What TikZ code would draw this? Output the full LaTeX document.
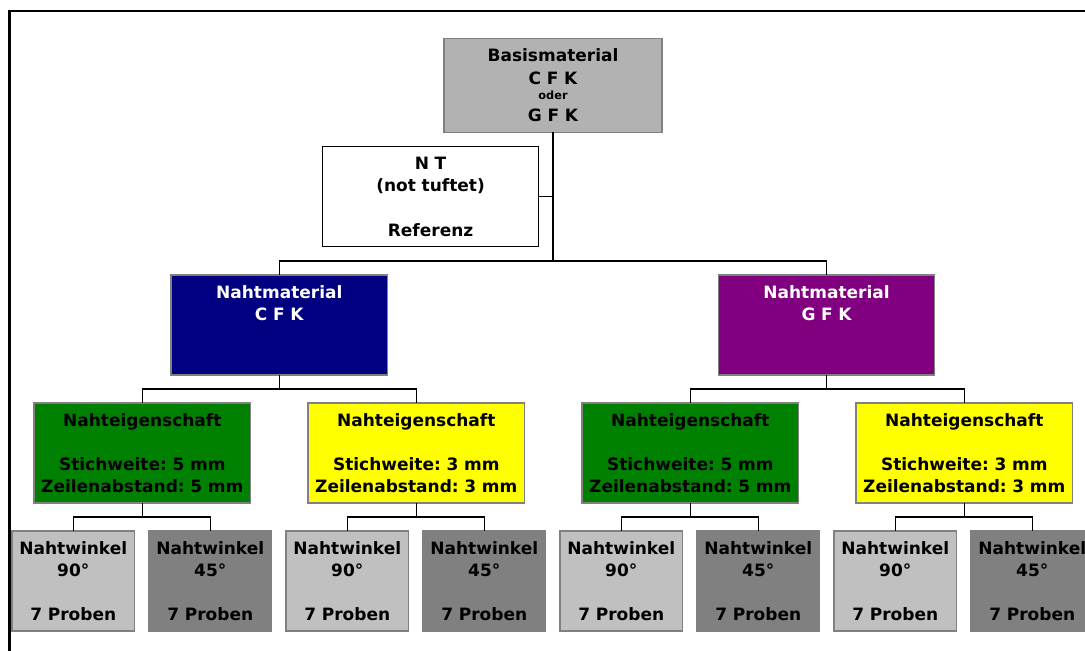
\documentclass[tikz,border=0pt]{standalone}
\usepackage{fontspec}
\setmainfont{DejaVu Sans}
\usepackage{tikz}
\frenchspacing

\definecolor{basisgray}{RGB}{178,178,178}
\definecolor{cfknavy}{RGB}{0,0,128}
\definecolor{gfkpurple}{RGB}{128,0,128}
\definecolor{stichgreen}{RGB}{0,128,0}
\definecolor{stichyellow}{RGB}{255,255,0}
\definecolor{winkellight}{RGB}{192,192,192}
\definecolor{winkeldark}{RGB}{128,128,128}
\definecolor{boxline}{RGB}{128,128,128}

\begin{document}
\begin{tikzpicture}[x=0.75pt, y=-0.75pt,
    font=\bfseries\fontsize{12.75}{16.7}\selectfont,
    box/.style={draw=boxline, line width=0.8pt, inner sep=0pt, outer sep=0pt,
        anchor=north west, align=center, text width=162.4pt,
        text height=17.25pt, text depth=57.75pt},
    winkelbox/.style={box, text width=91.9pt},
    link/.style={line width=0.9pt},
    frame/.style={line width=1.6pt}]

    \useasboundingbox (0,0) rectangle (1085,650);
    \clip (0,0) rectangle (1085,650);

    % Outer frame, only top and left edges visible
    \draw[frame] (9.5,660) -- (9.5,11) -- (1095,11);

    % Base material and untufted reference
    \node[box, fill=basisgray, text width=163.5pt, text depth=53.25pt] (basis) at (444,38.3)
        {Basismaterial\\[0.75pt] C F K\\[-5.6pt] {\fontsize{8.5}{10}\selectfont oder}\\ G F K};
    \node[box, draw=black, fill=white] (nt) at (322.3,146.7)
        {N T\\ (not tuftet)\\[16.7pt] Referenz};

    % Seam material
    \node[box, fill=cfknavy, text=white] (cfk) at (171,275) {Nahtmaterial\\ C F K};
    \node[box, fill=gfkpurple, text=white] (gfk) at (718.3,275) {Nahtmaterial\\ G F K};

    % Seam properties
    \node[box, fill=stichgreen] (c5) at (34,403)
        {Nahteigenschaft\\[16.7pt] Stichweite: 5 mm\\ Zeilenabstand: 5 mm};
    \node[box, fill=stichyellow] (c3) at (308,403)
        {Nahteigenschaft\\[16.7pt] Stichweite: 3 mm\\ Zeilenabstand: 3 mm};
    \node[box, fill=stichgreen] (g5) at (582,403)
        {Nahteigenschaft\\[16.7pt] Stichweite: 5 mm\\ Zeilenabstand: 5 mm};
    \node[box, fill=stichyellow] (g3) at (856,403)
        {Nahteigenschaft\\[16.7pt] Stichweite: 3 mm\\ Zeilenabstand: 3 mm};

    % Seam angles with sample counts
    \node[winkelbox, fill=winkellight] (c5w90) at (12,531) {Nahtwinkel\\ 90°\\[16.7pt] 7 Proben};
    \node[winkelbox, fill=winkeldark] (c5w45) at (149,531) {Nahtwinkel\\ 45°\\[16.7pt] 7 Proben};
    \node[winkelbox, fill=winkellight] (c3w90) at (286,531) {Nahtwinkel\\ 90°\\[16.7pt] 7 Proben};
    \node[winkelbox, fill=winkeldark] (c3w45) at (423,531) {Nahtwinkel\\ 45°\\[16.7pt] 7 Proben};
    \node[winkelbox, fill=winkellight] (g5w90) at (560,531) {Nahtwinkel\\ 90°\\[16.7pt] 7 Proben};
    \node[winkelbox, fill=winkeldark] (g5w45) at (697,531) {Nahtwinkel\\ 45°\\[16.7pt] 7 Proben};
    \node[winkelbox, fill=winkellight] (g3w90) at (834,531) {Nahtwinkel\\ 90°\\[16.7pt] 7 Proben};
    \node[winkelbox, fill=winkeldark] (g3w45) at (971,531) {Nahtwinkel\\ 45°\\[16.7pt] 7 Proben};

    % Tree connectors: down, across, down
    \draw[link] (basis.south) |- ([yshift=10.5pt]cfk.north) -- (cfk.north);
    \draw[link] (basis.south) |- ([yshift=10.5pt]gfk.north) -- (gfk.north);
    \draw[link] (nt.east) -- (nt.east -| basis.south);

    \draw[link] (cfk.south) |- ([yshift=10.5pt]c5.north) -- (c5.north);
    \draw[link] (cfk.south) |- ([yshift=10.5pt]c3.north) -- (c3.north);
    \draw[link] (gfk.south) |- ([yshift=10.5pt]g5.north) -- (g5.north);
    \draw[link] (gfk.south) |- ([yshift=10.5pt]g3.north) -- (g3.north);

    \draw[link] (c5.south) |- ([yshift=10.5pt]c5w90.north) -- (c5w90.north);
    \draw[link] (c5.south) |- ([yshift=10.5pt]c5w45.north) -- (c5w45.north);
    \draw[link] (c3.south) |- ([yshift=10.5pt]c3w90.north) -- (c3w90.north);
    \draw[link] (c3.south) |- ([yshift=10.5pt]c3w45.north) -- (c3w45.north);
    \draw[link] (g5.south) |- ([yshift=10.5pt]g5w90.north) -- (g5w90.north);
    \draw[link] (g5.south) |- ([yshift=10.5pt]g5w45.north) -- (g5w45.north);
    \draw[link] (g3.south) |- ([yshift=10.5pt]g3w90.north) -- (g3w90.north);
    \draw[link] (g3.south) |- ([yshift=10.5pt]g3w45.north) -- (g3w45.north);

\end{tikzpicture}
\end{document}
